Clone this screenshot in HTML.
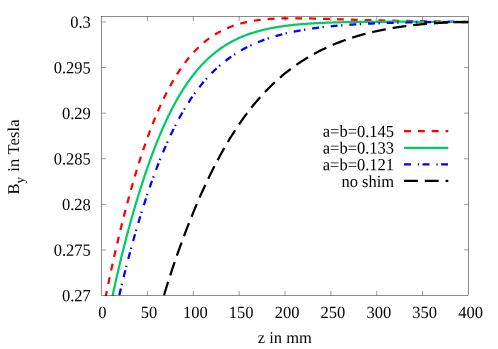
<!DOCTYPE html>
<html><head><meta charset="utf-8"><title>plot</title>
<style>
html,body{margin:0;padding:0;background:#fff;}
svg{display:block;}
text{font-family:"Liberation Serif",serif;font-size:16.5px;fill:#000;text-rendering:geometricPrecision;}
</style></head><body>
<svg width="498" height="349" viewBox="0 0 498 349">
<rect width="498" height="349" fill="#fff"/>
<clipPath id="c"><rect x="101.5" y="16.5" width="367.0" height="279.5"/></clipPath>
<g clip-path="url(#c)" fill="none" stroke-width="2.25">
<path d="M468.50,22.00 L467.77,21.98 L467.05,21.97 L466.32,21.95 L465.59,21.94 L464.87,21.93 L464.14,21.91 L463.41,21.90 L462.68,21.88 L461.96,21.87 L461.23,21.85 L460.50,21.84 L459.78,21.83 L459.05,21.81 L458.32,21.80 L457.60,21.78 L456.87,21.77 L456.14,21.76 L455.42,21.74 L454.69,21.73 L453.96,21.72 L453.23,21.70 L452.51,21.69 L451.78,21.68 L451.05,21.67 L450.33,21.65 L449.60,21.64 L448.87,21.63 L448.15,21.62 L447.42,21.60 L446.69,21.59 L445.97,21.58 L445.24,21.57 L444.51,21.55 L443.78,21.54 L443.06,21.53 L442.33,21.52 L441.60,21.51 L440.88,21.49 L440.15,21.48 L439.42,21.47 L438.70,21.46 L437.97,21.45 L437.24,21.44 L436.52,21.42 L435.79,21.41 L435.06,21.40 L434.33,21.39 L433.61,21.38 L432.88,21.37 L432.15,21.35 L431.43,21.34 L430.70,21.33 L429.97,21.32 L429.25,21.31 L428.52,21.30 L427.79,21.29 L427.06,21.27 L426.34,21.26 L425.61,21.25 L424.88,21.24 L424.16,21.23 L423.43,21.22 L422.70,21.21 L421.98,21.19 L421.25,21.18 L420.52,21.17 L419.80,21.16 L419.07,21.15 L418.34,21.14 L417.61,21.13 L416.89,21.11 L416.16,21.10 L415.43,21.09 L414.71,21.08 L413.98,21.07 L413.25,21.05 L412.53,21.04 L411.80,21.03 L411.07,21.02 L410.35,21.01 L409.62,20.99 L408.89,20.98 L408.16,20.97 L407.44,20.96 L406.71,20.95 L405.98,20.93 L405.26,20.92 L404.53,20.91 L403.80,20.90 L403.08,20.88 L402.35,20.87 L401.62,20.86 L400.90,20.84 L400.17,20.83 L399.44,20.82 L398.71,20.80 L397.99,20.79 L397.26,20.78 L396.53,20.76 L395.81,20.75 L395.08,20.74 L394.35,20.72 L393.63,20.71 L392.90,20.69 L392.17,20.68 L391.45,20.67 L390.72,20.65 L389.99,20.64 L389.26,20.62 L388.54,20.61 L387.81,20.59 L387.08,20.58 L386.36,20.56 L385.63,20.55 L384.90,20.53 L384.18,20.52 L383.45,20.50 L382.72,20.49 L382.00,20.47 L381.27,20.45 L380.54,20.44 L379.81,20.42 L379.09,20.40 L378.36,20.39 L377.63,20.37 L376.91,20.35 L376.18,20.34 L375.45,20.32 L374.73,20.30 L374.00,20.29 L373.27,20.27 L372.55,20.25 L371.82,20.23 L371.09,20.21 L370.36,20.20 L369.64,20.18 L368.91,20.16 L368.18,20.14 L367.46,20.12 L366.73,20.10 L366.00,20.08 L365.28,20.06 L364.55,20.05 L363.82,20.03 L363.10,20.01 L362.37,19.99 L361.64,19.97 L360.91,19.95 L360.19,19.93 L359.46,19.91 L358.73,19.89 L358.01,19.87 L357.28,19.84 L356.55,19.82 L355.83,19.80 L355.10,19.78 L354.37,19.76 L353.64,19.74 L352.92,19.72 L352.19,19.70 L351.46,19.68 L350.74,19.65 L350.01,19.63 L349.28,19.61 L348.56,19.59 L347.83,19.57 L347.10,19.54 L346.38,19.52 L345.65,19.50 L344.92,19.48 L344.19,19.45 L343.47,19.43 L342.74,19.41 L342.01,19.39 L341.29,19.36 L340.56,19.34 L339.83,19.32 L339.11,19.30 L338.38,19.27 L337.65,19.25 L336.93,19.23 L336.20,19.20 L335.47,19.18 L334.74,19.16 L334.02,19.14 L333.29,19.11 L332.56,19.09 L331.84,19.07 L331.11,19.04 L330.38,19.02 L329.66,19.00 L328.93,18.98 L328.20,18.95 L327.48,18.93 L326.75,18.91 L326.02,18.89 L325.29,18.86 L324.57,18.84 L323.84,18.82 L323.11,18.80 L322.39,18.78 L321.66,18.76 L320.93,18.74 L320.21,18.72 L319.48,18.69 L318.75,18.67 L318.03,18.65 L317.30,18.63 L316.57,18.61 L315.84,18.60 L315.12,18.58 L314.39,18.56 L313.66,18.54 L312.94,18.52 L312.21,18.50 L311.48,18.49 L310.76,18.47 L310.03,18.45 L309.30,18.44 L308.58,18.42 L307.85,18.41 L307.12,18.39 L306.39,18.38 L305.67,18.37 L304.94,18.35 L304.21,18.34 L303.49,18.33 L302.76,18.32 L302.03,18.31 L301.31,18.30 L300.58,18.29 L299.85,18.28 L299.13,18.27 L298.40,18.27 L297.67,18.26 L296.94,18.26 L296.22,18.25 L295.49,18.25 L294.76,18.24 L294.04,18.24 L293.31,18.24 L292.58,18.24 L291.86,18.24 L291.13,18.25 L290.40,18.25 L289.67,18.26 L288.95,18.26 L288.22,18.27 L287.49,18.28 L286.77,18.29 L286.04,18.30 L285.31,18.31 L284.59,18.32 L283.86,18.34 L283.13,18.35 L282.41,18.37 L281.68,18.39 L280.95,18.41 L280.22,18.43 L279.50,18.46 L278.77,18.48 L278.04,18.51 L277.32,18.54 L276.59,18.57 L275.86,18.60 L275.14,18.64 L274.41,18.68 L273.68,18.72 L272.96,18.76 L272.23,18.80 L271.50,18.84 L270.77,18.89 L270.05,18.94 L269.32,18.99 L268.59,19.05 L267.87,19.10 L267.14,19.16 L266.41,19.22 L265.69,19.29 L264.96,19.35 L264.23,19.42 L263.51,19.49 L262.78,19.57 L262.05,19.65 L261.32,19.73 L260.60,19.81 L259.87,19.90 L259.14,19.99 L258.42,20.08 L257.69,20.18 L256.96,20.28 L256.24,20.38 L255.51,20.49 L254.78,20.60 L254.06,20.71 L253.33,20.83 L252.60,20.95 L251.87,21.07 L251.15,21.20 L250.42,21.33 L249.69,21.47 L248.97,21.61 L248.24,21.76 L247.51,21.90 L246.79,22.06 L246.06,22.22 L245.33,22.38 L244.61,22.55 L243.88,22.72 L243.15,22.90 L242.42,23.08 L241.70,23.26 L240.97,23.46 L240.24,23.65 L239.52,23.85 L238.79,24.06 L238.06,24.27 L237.34,24.49 L236.61,24.72 L235.88,24.95 L235.16,25.18 L234.43,25.43 L233.70,25.67 L232.97,25.93 L232.25,26.19 L231.52,26.45 L230.79,26.73 L230.07,27.01 L229.34,27.29 L228.61,27.59 L227.89,27.89 L227.16,28.19 L226.43,28.51 L225.71,28.83 L224.98,29.16 L224.25,29.50 L223.52,29.84 L222.80,30.19 L222.07,30.55 L221.34,30.92 L220.62,31.30 L219.89,31.68 L219.16,32.07 L218.44,32.48 L217.71,32.89 L216.98,33.30 L216.25,33.73 L215.53,34.17 L214.80,34.62 L214.07,35.07 L213.35,35.54 L212.62,36.01 L211.89,36.50 L211.17,36.99 L210.44,37.49 L209.71,38.01 L208.99,38.53 L208.26,39.07 L207.53,39.62 L206.80,40.17 L206.08,40.74 L205.35,41.32 L204.62,41.91 L203.90,42.51 L203.17,43.13 L202.44,43.75 L201.72,44.39 L200.99,45.04 L200.26,45.70 L199.54,46.37 L198.81,47.06 L198.08,47.76 L197.35,48.47 L196.63,49.19 L195.90,49.93 L195.17,50.68 L194.45,51.45 L193.72,52.23 L192.99,53.02 L192.27,53.83 L191.54,54.65 L190.81,55.48 L190.09,56.33 L189.36,57.20 L188.63,58.08 L187.90,58.97 L187.18,59.88 L186.45,60.81 L185.72,61.75 L185.00,62.71 L184.27,63.68 L183.54,64.67 L182.82,65.67 L182.09,66.69 L181.36,67.73 L180.64,68.79 L179.91,69.86 L179.18,70.95 L178.45,72.06 L177.73,73.18 L177.00,74.32 L176.27,75.48 L175.55,76.66 L174.82,77.86 L174.09,79.07 L173.37,80.31 L172.64,81.56 L171.91,82.83 L171.19,84.12 L170.46,85.43 L169.73,86.76 L169.00,88.11 L168.28,89.48 L167.55,90.86 L166.82,92.27 L166.10,93.70 L165.37,95.15 L164.64,96.62 L163.92,98.11 L163.19,99.62 L162.46,101.16 L161.74,102.71 L161.01,104.29 L160.28,105.88 L159.55,107.50 L158.83,109.14 L158.10,110.81 L157.37,112.49 L156.65,114.20 L155.92,115.93 L155.19,117.68 L154.47,119.46 L153.74,121.25 L153.01,123.07 L152.29,124.92 L151.56,126.79 L150.83,128.68 L150.10,130.59 L149.38,132.53 L148.65,134.49 L147.92,136.47 L147.20,138.48 L146.47,140.52 L145.74,142.57 L145.02,144.66 L144.29,146.76 L143.56,148.89 L142.83,151.05 L142.11,153.23 L141.38,155.43 L140.65,157.66 L139.93,159.91 L139.20,162.19 L138.47,164.50 L137.75,166.83 L137.02,169.18 L136.29,171.56 L135.57,173.97 L134.84,176.40 L134.11,178.85 L133.38,181.33 L132.66,183.84 L131.93,186.38 L131.20,188.93 L130.48,191.52 L129.75,194.13 L129.02,196.77 L128.30,199.43 L127.57,202.12 L126.84,204.84 L126.12,207.58 L125.39,210.36 L124.66,213.15 L123.93,215.98 L123.21,218.83 L122.48,221.71 L121.75,224.62 L121.03,227.55 L120.30,230.51 L119.57,233.50 L118.85,236.52 L118.12,239.57 L117.39,242.65 L116.67,245.76 L115.94,248.90 L115.21,252.07 L114.48,255.26 L113.76,258.50 L113.03,261.76 L112.30,265.05 L111.58,268.38 L110.85,271.74 L110.12,275.14 L109.40,278.57 L108.67,282.04 L107.94,285.55 L107.22,289.09 L106.49,292.68 L105.76,296.30" stroke="#ff0000" stroke-dasharray="6.93 6.93"/>
<path d="M468.50,22.00 L467.79,21.99 L467.07,21.99 L466.36,21.98 L465.65,21.98 L464.93,21.97 L464.22,21.97 L463.51,21.96 L462.79,21.96 L462.08,21.95 L461.37,21.95 L460.65,21.94 L459.94,21.94 L459.23,21.93 L458.51,21.93 L457.80,21.92 L457.09,21.92 L456.37,21.91 L455.66,21.91 L454.95,21.90 L454.23,21.90 L453.52,21.90 L452.80,21.89 L452.09,21.89 L451.38,21.88 L450.66,21.88 L449.95,21.87 L449.24,21.87 L448.52,21.87 L447.81,21.86 L447.10,21.86 L446.38,21.85 L445.67,21.85 L444.96,21.85 L444.24,21.84 L443.53,21.84 L442.82,21.84 L442.10,21.83 L441.39,21.83 L440.68,21.82 L439.96,21.82 L439.25,21.82 L438.54,21.81 L437.82,21.81 L437.11,21.81 L436.40,21.81 L435.68,21.80 L434.97,21.80 L434.26,21.80 L433.54,21.79 L432.83,21.79 L432.12,21.79 L431.40,21.78 L430.69,21.78 L429.98,21.78 L429.26,21.78 L428.55,21.77 L427.84,21.77 L427.12,21.77 L426.41,21.77 L425.70,21.77 L424.98,21.76 L424.27,21.76 L423.55,21.76 L422.84,21.76 L422.13,21.75 L421.41,21.75 L420.70,21.75 L419.99,21.75 L419.27,21.75 L418.56,21.75 L417.85,21.74 L417.13,21.74 L416.42,21.74 L415.71,21.74 L414.99,21.74 L414.28,21.74 L413.57,21.74 L412.85,21.73 L412.14,21.73 L411.43,21.73 L410.71,21.73 L410.00,21.73 L409.29,21.73 L408.57,21.73 L407.86,21.73 L407.15,21.73 L406.43,21.73 L405.72,21.73 L405.01,21.73 L404.29,21.73 L403.58,21.73 L402.87,21.73 L402.15,21.73 L401.44,21.73 L400.73,21.73 L400.01,21.73 L399.30,21.73 L398.59,21.73 L397.87,21.73 L397.16,21.73 L396.45,21.73 L395.73,21.73 L395.02,21.73 L394.30,21.73 L393.59,21.73 L392.88,21.73 L392.16,21.73 L391.45,21.74 L390.74,21.74 L390.02,21.74 L389.31,21.74 L388.60,21.74 L387.88,21.74 L387.17,21.75 L386.46,21.75 L385.74,21.75 L385.03,21.75 L384.32,21.76 L383.60,21.76 L382.89,21.76 L382.18,21.76 L381.46,21.77 L380.75,21.77 L380.04,21.77 L379.32,21.78 L378.61,21.78 L377.90,21.78 L377.18,21.79 L376.47,21.79 L375.76,21.80 L375.04,21.80 L374.33,21.80 L373.62,21.81 L372.90,21.81 L372.19,21.82 L371.48,21.82 L370.76,21.83 L370.05,21.83 L369.34,21.84 L368.62,21.85 L367.91,21.85 L367.20,21.86 L366.48,21.86 L365.77,21.87 L365.06,21.88 L364.34,21.88 L363.63,21.89 L362.91,21.90 L362.20,21.91 L361.49,21.91 L360.77,21.92 L360.06,21.93 L359.35,21.94 L358.63,21.95 L357.92,21.96 L357.21,21.97 L356.49,21.98 L355.78,21.99 L355.07,22.00 L354.35,22.01 L353.64,22.02 L352.93,22.03 L352.21,22.04 L351.50,22.05 L350.79,22.06 L350.07,22.07 L349.36,22.09 L348.65,22.10 L347.93,22.11 L347.22,22.13 L346.51,22.14 L345.79,22.16 L345.08,22.17 L344.37,22.18 L343.65,22.20 L342.94,22.22 L342.23,22.23 L341.51,22.25 L340.80,22.27 L340.09,22.28 L339.37,22.30 L338.66,22.32 L337.95,22.34 L337.23,22.36 L336.52,22.38 L335.81,22.40 L335.09,22.42 L334.38,22.44 L333.66,22.46 L332.95,22.48 L332.24,22.50 L331.52,22.53 L330.81,22.55 L330.10,22.57 L329.38,22.60 L328.67,22.62 L327.96,22.65 L327.24,22.68 L326.53,22.70 L325.82,22.73 L325.10,22.76 L324.39,22.79 L323.68,22.82 L322.96,22.85 L322.25,22.88 L321.54,22.91 L320.82,22.94 L320.11,22.98 L319.40,23.01 L318.68,23.05 L317.97,23.08 L317.26,23.12 L316.54,23.16 L315.83,23.19 L315.12,23.23 L314.40,23.27 L313.69,23.31 L312.98,23.35 L312.26,23.40 L311.55,23.44 L310.84,23.48 L310.12,23.53 L309.41,23.58 L308.70,23.62 L307.98,23.67 L307.27,23.72 L306.56,23.77 L305.84,23.82 L305.13,23.88 L304.41,23.93 L303.70,23.98 L302.99,24.04 L302.27,24.10 L301.56,24.16 L300.85,24.22 L300.13,24.28 L299.42,24.34 L298.71,24.40 L297.99,24.47 L297.28,24.53 L296.57,24.60 L295.85,24.67 L295.14,24.74 L294.43,24.81 L293.71,24.89 L293.00,24.96 L292.29,25.04 L291.57,25.12 L290.86,25.20 L290.15,25.28 L289.43,25.36 L288.72,25.45 L288.01,25.53 L287.29,25.62 L286.58,25.71 L285.87,25.80 L285.15,25.90 L284.44,25.99 L283.73,26.09 L283.01,26.19 L282.30,26.29 L281.59,26.40 L280.87,26.50 L280.16,26.61 L279.45,26.72 L278.73,26.83 L278.02,26.95 L277.31,27.06 L276.59,27.18 L275.88,27.30 L275.16,27.43 L274.45,27.55 L273.74,27.68 L273.02,27.81 L272.31,27.95 L271.60,28.08 L270.88,28.22 L270.17,28.36 L269.46,28.51 L268.74,28.66 L268.03,28.81 L267.32,28.96 L266.60,29.12 L265.89,29.28 L265.18,29.44 L264.46,29.60 L263.75,29.77 L263.04,29.94 L262.32,30.12 L261.61,30.30 L260.90,30.48 L260.18,30.66 L259.47,30.85 L258.76,31.04 L258.04,31.24 L257.33,31.44 L256.62,31.64 L255.90,31.85 L255.19,32.06 L254.48,32.28 L253.76,32.50 L253.05,32.72 L252.34,32.95 L251.62,33.18 L250.91,33.41 L250.20,33.65 L249.48,33.90 L248.77,34.15 L248.06,34.40 L247.34,34.66 L246.63,34.92 L245.91,35.19 L245.20,35.46 L244.49,35.74 L243.77,36.02 L243.06,36.31 L242.35,36.60 L241.63,36.90 L240.92,37.20 L240.21,37.51 L239.49,37.83 L238.78,38.15 L238.07,38.47 L237.35,38.80 L236.64,39.14 L235.93,39.48 L235.21,39.83 L234.50,40.19 L233.79,40.55 L233.07,40.92 L232.36,41.29 L231.65,41.67 L230.93,42.06 L230.22,42.46 L229.51,42.86 L228.79,43.26 L228.08,43.68 L227.37,44.10 L226.65,44.53 L225.94,44.97 L225.23,45.41 L224.51,45.87 L223.80,46.33 L223.09,46.79 L222.37,47.27 L221.66,47.75 L220.95,48.24 L220.23,48.74 L219.52,49.25 L218.81,49.77 L218.09,50.29 L217.38,50.83 L216.67,51.37 L215.95,51.92 L215.24,52.48 L214.52,53.06 L213.81,53.63 L213.10,54.22 L212.38,54.82 L211.67,55.43 L210.96,56.05 L210.24,56.68 L209.53,57.32 L208.82,57.97 L208.10,58.62 L207.39,59.29 L206.68,59.98 L205.96,60.67 L205.25,61.37 L204.54,62.08 L203.82,62.81 L203.11,63.54 L202.40,64.29 L201.68,65.05 L200.97,65.82 L200.26,66.60 L199.54,67.40 L198.83,68.20 L198.12,69.02 L197.40,69.86 L196.69,70.70 L195.98,71.56 L195.26,72.43 L194.55,73.31 L193.84,74.21 L193.12,75.12 L192.41,76.04 L191.70,76.98 L190.98,77.93 L190.27,78.90 L189.56,79.88 L188.84,80.87 L188.13,81.88 L187.42,82.90 L186.70,83.94 L185.99,84.99 L185.27,86.06 L184.56,87.14 L183.85,88.24 L183.13,89.35 L182.42,90.48 L181.71,91.63 L180.99,92.79 L180.28,93.97 L179.57,95.16 L178.85,96.37 L178.14,97.59 L177.43,98.84 L176.71,100.10 L176.00,101.37 L175.29,102.67 L174.57,103.98 L173.86,105.30 L173.15,106.65 L172.43,108.01 L171.72,109.39 L171.01,110.79 L170.29,112.21 L169.58,113.64 L168.87,115.09 L168.15,116.56 L167.44,118.05 L166.73,119.56 L166.01,121.08 L165.30,122.63 L164.59,124.19 L163.87,125.77 L163.16,127.38 L162.45,129.00 L161.73,130.64 L161.02,132.29 L160.31,133.97 L159.59,135.67 L158.88,137.39 L158.17,139.12 L157.45,140.88 L156.74,142.66 L156.02,144.45 L155.31,146.27 L154.60,148.11 L153.88,149.96 L153.17,151.84 L152.46,153.74 L151.74,155.65 L151.03,157.59 L150.32,159.55 L149.60,161.52 L148.89,163.52 L148.18,165.54 L147.46,167.58 L146.75,169.64 L146.04,171.72 L145.32,173.82 L144.61,175.94 L143.90,178.09 L143.18,180.25 L142.47,182.43 L141.76,184.64 L141.04,186.86 L140.33,189.11 L139.62,191.38 L138.90,193.67 L138.19,195.98 L137.48,198.31 L136.76,200.67 L136.05,203.04 L135.34,205.44 L134.62,207.86 L133.91,210.30 L133.20,212.77 L132.48,215.26 L131.77,217.77 L131.06,220.30 L130.34,222.85 L129.63,225.44 L128.92,228.04 L128.20,230.67 L127.49,233.32 L126.77,236.00 L126.06,238.71 L125.35,241.44 L124.63,244.20 L123.92,246.99 L123.21,249.80 L122.49,252.65 L121.78,255.52 L121.07,258.43 L120.35,261.37 L119.64,264.35 L118.93,267.36 L118.21,270.40 L117.50,273.49 L116.79,276.61 L116.07,279.78 L115.36,282.98 L114.65,286.24 L113.93,289.54 L113.22,292.89 L112.51,296.30" stroke="#00cc66"/>
<path d="M468.50,22.00 L467.80,22.00 L467.10,22.00 L466.40,22.00 L465.70,22.00 L465.00,22.00 L464.30,22.00 L463.60,22.00 L462.90,22.00 L462.20,22.01 L461.50,22.01 L460.80,22.01 L460.10,22.01 L459.40,22.01 L458.70,22.01 L458.00,22.01 L457.30,22.01 L456.60,22.02 L455.90,22.02 L455.19,22.02 L454.49,22.02 L453.79,22.02 L453.09,22.03 L452.39,22.03 L451.69,22.03 L450.99,22.03 L450.29,22.04 L449.59,22.04 L448.89,22.04 L448.19,22.05 L447.49,22.05 L446.79,22.05 L446.09,22.06 L445.39,22.06 L444.69,22.06 L443.99,22.07 L443.29,22.07 L442.59,22.07 L441.89,22.08 L441.19,22.08 L440.49,22.09 L439.79,22.09 L439.09,22.10 L438.39,22.10 L437.69,22.11 L436.99,22.11 L436.29,22.12 L435.59,22.12 L434.89,22.13 L434.19,22.13 L433.49,22.14 L432.79,22.15 L432.09,22.15 L431.39,22.16 L430.69,22.16 L429.99,22.17 L429.28,22.18 L428.58,22.19 L427.88,22.19 L427.18,22.20 L426.48,22.21 L425.78,22.22 L425.08,22.22 L424.38,22.23 L423.68,22.24 L422.98,22.25 L422.28,22.26 L421.58,22.27 L420.88,22.27 L420.18,22.28 L419.48,22.29 L418.78,22.30 L418.08,22.31 L417.38,22.32 L416.68,22.33 L415.98,22.34 L415.28,22.35 L414.58,22.36 L413.88,22.37 L413.18,22.39 L412.48,22.40 L411.78,22.41 L411.08,22.42 L410.38,22.43 L409.68,22.45 L408.98,22.46 L408.28,22.47 L407.58,22.48 L406.88,22.50 L406.18,22.51 L405.48,22.52 L404.78,22.54 L404.08,22.55 L403.37,22.57 L402.67,22.58 L401.97,22.60 L401.27,22.61 L400.57,22.63 L399.87,22.64 L399.17,22.66 L398.47,22.68 L397.77,22.69 L397.07,22.71 L396.37,22.73 L395.67,22.74 L394.97,22.76 L394.27,22.78 L393.57,22.80 L392.87,22.82 L392.17,22.84 L391.47,22.85 L390.77,22.87 L390.07,22.89 L389.37,22.91 L388.67,22.94 L387.97,22.96 L387.27,22.98 L386.57,23.00 L385.87,23.02 L385.17,23.04 L384.47,23.07 L383.77,23.09 L383.07,23.11 L382.37,23.14 L381.67,23.16 L380.97,23.18 L380.27,23.21 L379.57,23.23 L378.87,23.26 L378.17,23.29 L377.46,23.31 L376.76,23.34 L376.06,23.37 L375.36,23.39 L374.66,23.42 L373.96,23.45 L373.26,23.48 L372.56,23.51 L371.86,23.54 L371.16,23.57 L370.46,23.60 L369.76,23.63 L369.06,23.66 L368.36,23.70 L367.66,23.73 L366.96,23.76 L366.26,23.79 L365.56,23.83 L364.86,23.86 L364.16,23.90 L363.46,23.93 L362.76,23.97 L362.06,24.01 L361.36,24.04 L360.66,24.08 L359.96,24.12 L359.26,24.16 L358.56,24.20 L357.86,24.24 L357.16,24.28 L356.46,24.32 L355.76,24.36 L355.06,24.40 L354.36,24.45 L353.66,24.49 L352.96,24.53 L352.26,24.58 L351.55,24.62 L350.85,24.67 L350.15,24.72 L349.45,24.76 L348.75,24.81 L348.05,24.86 L347.35,24.91 L346.65,24.96 L345.95,25.01 L345.25,25.06 L344.55,25.11 L343.85,25.17 L343.15,25.22 L342.45,25.28 L341.75,25.33 L341.05,25.39 L340.35,25.44 L339.65,25.50 L338.95,25.56 L338.25,25.62 L337.55,25.68 L336.85,25.74 L336.15,25.80 L335.45,25.86 L334.75,25.93 L334.05,25.99 L333.35,26.06 L332.65,26.12 L331.95,26.19 L331.25,26.26 L330.55,26.33 L329.85,26.40 L329.15,26.47 L328.45,26.54 L327.75,26.61 L327.05,26.69 L326.34,26.76 L325.64,26.84 L324.94,26.92 L324.24,26.99 L323.54,27.07 L322.84,27.15 L322.14,27.23 L321.44,27.32 L320.74,27.40 L320.04,27.48 L319.34,27.57 L318.64,27.66 L317.94,27.75 L317.24,27.84 L316.54,27.93 L315.84,28.02 L315.14,28.11 L314.44,28.21 L313.74,28.30 L313.04,28.40 L312.34,28.50 L311.64,28.60 L310.94,28.70 L310.24,28.80 L309.54,28.91 L308.84,29.01 L308.14,29.12 L307.44,29.23 L306.74,29.34 L306.04,29.45 L305.34,29.56 L304.64,29.68 L303.94,29.79 L303.24,29.91 L302.54,30.03 L301.84,30.15 L301.14,30.27 L300.43,30.40 L299.73,30.52 L299.03,30.65 L298.33,30.78 L297.63,30.91 L296.93,31.04 L296.23,31.18 L295.53,31.32 L294.83,31.45 L294.13,31.60 L293.43,31.74 L292.73,31.88 L292.03,32.03 L291.33,32.18 L290.63,32.33 L289.93,32.48 L289.23,32.63 L288.53,32.79 L287.83,32.95 L287.13,33.11 L286.43,33.27 L285.73,33.44 L285.03,33.61 L284.33,33.78 L283.63,33.95 L282.93,34.13 L282.23,34.30 L281.53,34.48 L280.83,34.67 L280.13,34.85 L279.43,35.04 L278.73,35.23 L278.03,35.42 L277.33,35.62 L276.63,35.81 L275.93,36.01 L275.23,36.22 L274.52,36.42 L273.82,36.63 L273.12,36.84 L272.42,37.06 L271.72,37.28 L271.02,37.50 L270.32,37.72 L269.62,37.95 L268.92,38.18 L268.22,38.41 L267.52,38.65 L266.82,38.89 L266.12,39.13 L265.42,39.38 L264.72,39.63 L264.02,39.88 L263.32,40.14 L262.62,40.40 L261.92,40.66 L261.22,40.93 L260.52,41.20 L259.82,41.48 L259.12,41.76 L258.42,42.04 L257.72,42.33 L257.02,42.62 L256.32,42.91 L255.62,43.21 L254.92,43.51 L254.22,43.82 L253.52,44.13 L252.82,44.45 L252.12,44.77 L251.42,45.09 L250.72,45.42 L250.02,45.75 L249.32,46.09 L248.61,46.43 L247.91,46.78 L247.21,47.13 L246.51,47.49 L245.81,47.85 L245.11,48.22 L244.41,48.59 L243.71,48.97 L243.01,49.35 L242.31,49.74 L241.61,50.14 L240.91,50.53 L240.21,50.94 L239.51,51.35 L238.81,51.76 L238.11,52.19 L237.41,52.61 L236.71,53.05 L236.01,53.48 L235.31,53.93 L234.61,54.38 L233.91,54.84 L233.21,55.30 L232.51,55.77 L231.81,56.25 L231.11,56.73 L230.41,57.22 L229.71,57.72 L229.01,58.22 L228.31,58.73 L227.61,59.25 L226.91,59.77 L226.21,60.30 L225.51,60.84 L224.81,61.39 L224.11,61.94 L223.41,62.51 L222.70,63.07 L222.00,63.65 L221.30,64.24 L220.60,64.83 L219.90,65.43 L219.20,66.04 L218.50,66.65 L217.80,67.28 L217.10,67.91 L216.40,68.56 L215.70,69.21 L215.00,69.87 L214.30,70.54 L213.60,71.22 L212.90,71.90 L212.20,72.60 L211.50,73.31 L210.80,74.02 L210.10,74.75 L209.40,75.48 L208.70,76.23 L208.00,76.98 L207.30,77.75 L206.60,78.52 L205.90,79.31 L205.20,80.10 L204.50,80.91 L203.80,81.73 L203.10,82.55 L202.40,83.39 L201.70,84.24 L201.00,85.10 L200.30,85.98 L199.60,86.86 L198.90,87.76 L198.20,88.66 L197.50,89.58 L196.79,90.51 L196.09,91.46 L195.39,92.41 L194.69,93.38 L193.99,94.36 L193.29,95.35 L192.59,96.36 L191.89,97.38 L191.19,98.41 L190.49,99.45 L189.79,100.51 L189.09,101.58 L188.39,102.67 L187.69,103.77 L186.99,104.88 L186.29,106.01 L185.59,107.15 L184.89,108.30 L184.19,109.47 L183.49,110.66 L182.79,111.85 L182.09,113.07 L181.39,114.30 L180.69,115.54 L179.99,116.80 L179.29,118.07 L178.59,119.36 L177.89,120.67 L177.19,121.99 L176.49,123.32 L175.79,124.67 L175.09,126.04 L174.39,127.43 L173.69,128.83 L172.99,130.24 L172.29,131.68 L171.59,133.13 L170.88,134.60 L170.18,136.08 L169.48,137.58 L168.78,139.10 L168.08,140.63 L167.38,142.19 L166.68,143.76 L165.98,145.34 L165.28,146.95 L164.58,148.57 L163.88,150.21 L163.18,151.87 L162.48,153.55 L161.78,155.24 L161.08,156.96 L160.38,158.69 L159.68,160.44 L158.98,162.21 L158.28,163.99 L157.58,165.80 L156.88,167.62 L156.18,169.46 L155.48,171.33 L154.78,173.21 L154.08,175.11 L153.38,177.02 L152.68,178.96 L151.98,180.92 L151.28,182.90 L150.58,184.89 L149.88,186.91 L149.18,188.94 L148.48,190.99 L147.78,193.07 L147.08,195.16 L146.38,197.27 L145.68,199.40 L144.97,201.56 L144.27,203.73 L143.57,205.92 L142.87,208.13 L142.17,210.36 L141.47,212.61 L140.77,214.88 L140.07,217.17 L139.37,219.49 L138.67,221.82 L137.97,224.17 L137.27,226.55 L136.57,228.94 L135.87,231.35 L135.17,233.79 L134.47,236.25 L133.77,238.73 L133.07,241.23 L132.37,243.75 L131.67,246.29 L130.97,248.86 L130.27,251.45 L129.57,254.06 L128.87,256.69 L128.17,259.35 L127.47,262.03 L126.77,264.74 L126.07,267.47 L125.37,270.23 L124.67,273.01 L123.97,275.82 L123.27,278.66 L122.57,281.52 L121.87,284.41 L121.17,287.34 L120.47,290.29 L119.77,293.28 L119.06,296.30" stroke="#0000ff" stroke-dasharray="7 6.9 1.4 3.4"/>
<path d="M468.50,22.00 L467.89,22.01 L467.28,22.01 L466.67,22.02 L466.06,22.03 L465.45,22.03 L464.83,22.04 L464.22,22.05 L463.61,22.06 L463.00,22.07 L462.39,22.08 L461.78,22.09 L461.17,22.11 L460.56,22.12 L459.95,22.13 L459.34,22.15 L458.73,22.16 L458.12,22.18 L457.50,22.19 L456.89,22.21 L456.28,22.22 L455.67,22.24 L455.06,22.26 L454.45,22.28 L453.84,22.30 L453.23,22.32 L452.62,22.34 L452.01,22.36 L451.40,22.38 L450.79,22.40 L450.17,22.43 L449.56,22.45 L448.95,22.47 L448.34,22.50 L447.73,22.52 L447.12,22.55 L446.51,22.58 L445.90,22.60 L445.29,22.63 L444.68,22.66 L444.07,22.69 L443.45,22.72 L442.84,22.75 L442.23,22.78 L441.62,22.82 L441.01,22.85 L440.40,22.88 L439.79,22.92 L439.18,22.95 L438.57,22.99 L437.96,23.02 L437.35,23.06 L436.74,23.10 L436.12,23.14 L435.51,23.18 L434.90,23.22 L434.29,23.26 L433.68,23.30 L433.07,23.34 L432.46,23.38 L431.85,23.43 L431.24,23.47 L430.63,23.52 L430.02,23.56 L429.40,23.61 L428.79,23.66 L428.18,23.71 L427.57,23.76 L426.96,23.81 L426.35,23.86 L425.74,23.91 L425.13,23.96 L424.52,24.01 L423.91,24.07 L423.30,24.12 L422.69,24.18 L422.07,24.23 L421.46,24.29 L420.85,24.35 L420.24,24.41 L419.63,24.47 L419.02,24.53 L418.41,24.59 L417.80,24.65 L417.19,24.72 L416.58,24.78 L415.97,24.84 L415.36,24.91 L414.74,24.98 L414.13,25.04 L413.52,25.11 L412.91,25.18 L412.30,25.25 L411.69,25.32 L411.08,25.39 L410.47,25.47 L409.86,25.54 L409.25,25.62 L408.64,25.69 L408.02,25.77 L407.41,25.85 L406.80,25.93 L406.19,26.00 L405.58,26.09 L404.97,26.17 L404.36,26.25 L403.75,26.33 L403.14,26.42 L402.53,26.50 L401.92,26.59 L401.31,26.68 L400.69,26.76 L400.08,26.85 L399.47,26.94 L398.86,27.04 L398.25,27.13 L397.64,27.22 L397.03,27.32 L396.42,27.41 L395.81,27.51 L395.20,27.61 L394.59,27.71 L393.98,27.81 L393.36,27.91 L392.75,28.01 L392.14,28.11 L391.53,28.22 L390.92,28.32 L390.31,28.43 L389.70,28.54 L389.09,28.65 L388.48,28.76 L387.87,28.87 L387.26,28.98 L386.64,29.09 L386.03,29.21 L385.42,29.33 L384.81,29.44 L384.20,29.56 L383.59,29.68 L382.98,29.80 L382.37,29.92 L381.76,30.05 L381.15,30.17 L380.54,30.30 L379.93,30.42 L379.31,30.55 L378.70,30.68 L378.09,30.81 L377.48,30.95 L376.87,31.08 L376.26,31.21 L375.65,31.35 L375.04,31.49 L374.43,31.63 L373.82,31.77 L373.21,31.91 L372.60,32.05 L371.98,32.20 L371.37,32.34 L370.76,32.49 L370.15,32.64 L369.54,32.79 L368.93,32.94 L368.32,33.09 L367.71,33.25 L367.10,33.40 L366.49,33.56 L365.88,33.72 L365.26,33.88 L364.65,34.04 L364.04,34.20 L363.43,34.37 L362.82,34.53 L362.21,34.70 L361.60,34.87 L360.99,35.04 L360.38,35.22 L359.77,35.39 L359.16,35.57 L358.55,35.74 L357.93,35.92 L357.32,36.10 L356.71,36.28 L356.10,36.47 L355.49,36.65 L354.88,36.84 L354.27,37.03 L353.66,37.22 L353.05,37.41 L352.44,37.61 L351.83,37.80 L351.21,38.00 L350.60,38.20 L349.99,38.40 L349.38,38.60 L348.77,38.81 L348.16,39.02 L347.55,39.22 L346.94,39.43 L346.33,39.65 L345.72,39.86 L345.11,40.08 L344.50,40.29 L343.88,40.51 L343.27,40.74 L342.66,40.96 L342.05,41.19 L341.44,41.41 L340.83,41.64 L340.22,41.87 L339.61,42.11 L339.00,42.34 L338.39,42.58 L337.78,42.82 L337.17,43.06 L336.55,43.31 L335.94,43.55 L335.33,43.80 L334.72,44.05 L334.11,44.30 L333.50,44.56 L332.89,44.81 L332.28,45.07 L331.67,45.33 L331.06,45.60 L330.45,45.86 L329.83,46.13 L329.22,46.40 L328.61,46.68 L328.00,46.95 L327.39,47.23 L326.78,47.51 L326.17,47.79 L325.56,48.07 L324.95,48.36 L324.34,48.65 L323.73,48.94 L323.12,49.24 L322.50,49.53 L321.89,49.83 L321.28,50.13 L320.67,50.44 L320.06,50.75 L319.45,51.05 L318.84,51.37 L318.23,51.68 L317.62,52.00 L317.01,52.32 L316.40,52.64 L315.79,52.97 L315.17,53.30 L314.56,53.63 L313.95,53.96 L313.34,54.30 L312.73,54.64 L312.12,54.98 L311.51,55.32 L310.90,55.67 L310.29,56.02 L309.68,56.38 L309.07,56.73 L308.45,57.09 L307.84,57.46 L307.23,57.82 L306.62,58.19 L306.01,58.56 L305.40,58.94 L304.79,59.32 L304.18,59.70 L303.57,60.08 L302.96,60.47 L302.35,60.86 L301.74,61.25 L301.12,61.65 L300.51,62.05 L299.90,62.46 L299.29,62.86 L298.68,63.27 L298.07,63.69 L297.46,64.11 L296.85,64.53 L296.24,64.95 L295.63,65.38 L295.02,65.81 L294.40,66.25 L293.79,66.68 L293.18,67.13 L292.57,67.57 L291.96,68.02 L291.35,68.47 L290.74,68.93 L290.13,69.39 L289.52,69.86 L288.91,70.32 L288.30,70.80 L287.69,71.27 L287.07,71.75 L286.46,72.24 L285.85,72.72 L285.24,73.22 L284.63,73.71 L284.02,74.21 L283.41,74.71 L282.80,75.22 L282.19,75.73 L281.58,76.25 L280.97,76.77 L280.36,77.30 L279.74,77.82 L279.13,78.36 L278.52,78.89 L277.91,79.44 L277.30,79.98 L276.69,80.53 L276.08,81.09 L275.47,81.65 L274.86,82.21 L274.25,82.78 L273.64,83.35 L273.02,83.93 L272.41,84.51 L271.80,85.10 L271.19,85.69 L270.58,86.29 L269.97,86.89 L269.36,87.50 L268.75,88.11 L268.14,88.72 L267.53,89.34 L266.92,89.97 L266.31,90.60 L265.69,91.24 L265.08,91.88 L264.47,92.52 L263.86,93.17 L263.25,93.83 L262.64,94.49 L262.03,95.16 L261.42,95.83 L260.81,96.51 L260.20,97.19 L259.59,97.88 L258.98,98.57 L258.36,99.27 L257.75,99.97 L257.14,100.68 L256.53,101.40 L255.92,102.12 L255.31,102.85 L254.70,103.58 L254.09,104.32 L253.48,105.06 L252.87,105.81 L252.26,106.57 L251.64,107.33 L251.03,108.10 L250.42,108.87 L249.81,109.65 L249.20,110.43 L248.59,111.22 L247.98,112.02 L247.37,112.83 L246.76,113.64 L246.15,114.45 L245.54,115.27 L244.93,116.10 L244.31,116.94 L243.70,117.78 L243.09,118.62 L242.48,119.48 L241.87,120.34 L241.26,121.21 L240.65,122.08 L240.04,122.96 L239.43,123.85 L238.82,124.74 L238.21,125.64 L237.59,126.55 L236.98,127.46 L236.37,128.38 L235.76,129.31 L235.15,130.24 L234.54,131.18 L233.93,132.13 L233.32,133.08 L232.71,134.04 L232.10,135.01 L231.49,135.99 L230.88,136.97 L230.26,137.96 L229.65,138.96 L229.04,139.96 L228.43,140.98 L227.82,142.00 L227.21,143.02 L226.60,144.06 L225.99,145.10 L225.38,146.15 L224.77,147.20 L224.16,148.27 L223.55,149.34 L222.93,150.41 L222.32,151.50 L221.71,152.59 L221.10,153.70 L220.49,154.81 L219.88,155.92 L219.27,157.05 L218.66,158.18 L218.05,159.32 L217.44,160.47 L216.83,161.62 L216.21,162.79 L215.60,163.96 L214.99,165.14 L214.38,166.33 L213.77,167.52 L213.16,168.73 L212.55,169.94 L211.94,171.16 L211.33,172.38 L210.72,173.62 L210.11,174.87 L209.50,176.12 L208.88,177.38 L208.27,178.65 L207.66,179.92 L207.05,181.21 L206.44,182.50 L205.83,183.80 L205.22,185.11 L204.61,186.43 L204.00,187.76 L203.39,189.10 L202.78,190.44 L202.17,191.79 L201.55,193.15 L200.94,194.52 L200.33,195.90 L199.72,197.29 L199.11,198.68 L198.50,200.09 L197.89,201.50 L197.28,202.92 L196.67,204.35 L196.06,205.79 L195.45,207.23 L194.83,208.69 L194.22,210.15 L193.61,211.63 L193.00,213.11 L192.39,214.60 L191.78,216.10 L191.17,217.61 L190.56,219.13 L189.95,220.66 L189.34,222.19 L188.73,223.74 L188.12,225.30 L187.50,226.86 L186.89,228.43 L186.28,230.02 L185.67,231.61 L185.06,233.21 L184.45,234.82 L183.84,236.44 L183.23,238.07 L182.62,239.72 L182.01,241.37 L181.40,243.03 L180.79,244.70 L180.17,246.38 L179.56,248.07 L178.95,249.77 L178.34,251.48 L177.73,253.21 L177.12,254.94 L176.51,256.69 L175.90,258.44 L175.29,260.21 L174.68,261.99 L174.07,263.78 L173.45,265.58 L172.84,267.40 L172.23,269.23 L171.62,271.07 L171.01,272.92 L170.40,274.79 L169.79,276.67 L169.18,278.56 L168.57,280.47 L167.96,282.39 L167.35,284.33 L166.74,286.28 L166.12,288.25 L165.51,290.24 L164.90,292.24 L164.29,294.26 L163.68,296.30" stroke="#000" stroke-dasharray="13.86 6.93"/>
</g>
<path d="M147.38,295.5 v-4.5 M147.38,16.5 v4.5 M193.25,295.5 v-4.5 M193.25,16.5 v4.5 M239.12,295.5 v-4.5 M239.12,16.5 v4.5 M285.00,295.5 v-4.5 M285.00,16.5 v4.5 M330.88,295.5 v-4.5 M330.88,16.5 v4.5 M376.75,295.5 v-4.5 M376.75,16.5 v4.5 M422.62,295.5 v-4.5 M422.62,16.5 v4.5 M101.5,249.92 h4.5 M468.5,249.92 h-4.5 M101.5,204.33 h4.5 M468.5,204.33 h-4.5 M101.5,158.75 h4.5 M468.5,158.75 h-4.5 M101.5,113.17 h4.5 M468.5,113.17 h-4.5 M101.5,67.58 h4.5 M468.5,67.58 h-4.5 M101.5,22.00 h4.5 M468.5,22.00 h-4.5" stroke="#000" stroke-width="0.4" fill="none"/>
<rect x="101.5" y="16.5" width="367.0" height="279.0" fill="none" stroke="#000" stroke-width="0.45"/>
<text text-anchor="end" transform="translate(90.8 301.30) rotate(0.03) scale(1 1.035)">0.27</text>
<text text-anchor="end" transform="translate(90.8 255.72) rotate(0.03) scale(1 1.035)">0.275</text>
<text text-anchor="end" transform="translate(90.8 210.13) rotate(0.03) scale(1 1.035)">0.28</text>
<text text-anchor="end" transform="translate(90.8 164.55) rotate(0.03) scale(1 1.035)">0.285</text>
<text text-anchor="end" transform="translate(90.8 118.97) rotate(0.03) scale(1 1.035)">0.29</text>
<text text-anchor="end" transform="translate(90.8 73.38) rotate(0.03) scale(1 1.035)">0.295</text>
<text text-anchor="end" transform="translate(90.8 27.80) rotate(0.03) scale(1 1.035)">0.3</text>
<text text-anchor="middle" transform="translate(102.40 318.1) rotate(0.03) scale(1 1.035)">0</text>
<text text-anchor="middle" transform="translate(148.88 318.1) rotate(0.03) scale(1 1.035)">50</text>
<text text-anchor="middle" transform="translate(195.35 318.1) rotate(0.03) scale(1 1.035)">100</text>
<text text-anchor="middle" transform="translate(241.22 318.1) rotate(0.03) scale(1 1.035)">150</text>
<text text-anchor="middle" transform="translate(287.10 318.1) rotate(0.03) scale(1 1.035)">200</text>
<text text-anchor="middle" transform="translate(332.98 318.1) rotate(0.03) scale(1 1.035)">250</text>
<text text-anchor="middle" transform="translate(378.85 318.1) rotate(0.03) scale(1 1.035)">300</text>
<text text-anchor="middle" transform="translate(424.73 318.1) rotate(0.03) scale(1 1.035)">350</text>
<text text-anchor="middle" transform="translate(470.60 318.1) rotate(0.03) scale(1 1.035)">400</text>
<text x="284.8" y="343.0" text-anchor="middle" transform="rotate(0.03 284.8 343.0)">z in mm</text>
<text transform="rotate(-90)" xml:space="preserve"><tspan x="-194.6" y="18.5">B</tspan><tspan x="-183.6" y="23.9" style="font-size:13.20px">y</tspan><tspan x="-176.0" y="18.5" letter-spacing="0.15"> in Tesla</tspan></text>
<text text-anchor="end" transform="translate(394.1 136.90) rotate(0.03) scale(1 1.03)">a=b=0.145</text>
<path d="M404,131.1 H448.3" stroke="#ff0000" stroke-width="2.3" fill="none" stroke-dasharray="6.93 6.93"/>
<text text-anchor="end" transform="translate(394.1 153.60) rotate(0.03) scale(1 1.03)">a=b=0.133</text>
<path d="M404,147.8 H448.3" stroke="#00cc66" stroke-width="2.3" fill="none"/>
<text text-anchor="end" transform="translate(394.1 170.30) rotate(0.03) scale(1 1.03)">a=b=0.121</text>
<path d="M404,164.3 H448.3" stroke="#0000ff" stroke-width="2.3" fill="none" stroke-dasharray="6.93 6.93 1.2 3.49"/>
<text text-anchor="end" transform="translate(394.1 187.00) rotate(0.03) scale(1 1.03)">no shim</text>
<path d="M404,180.9 H448.3" stroke="#000" stroke-width="2.3" fill="none" stroke-dasharray="13.86 6.93"/>
</svg>
</body></html>
